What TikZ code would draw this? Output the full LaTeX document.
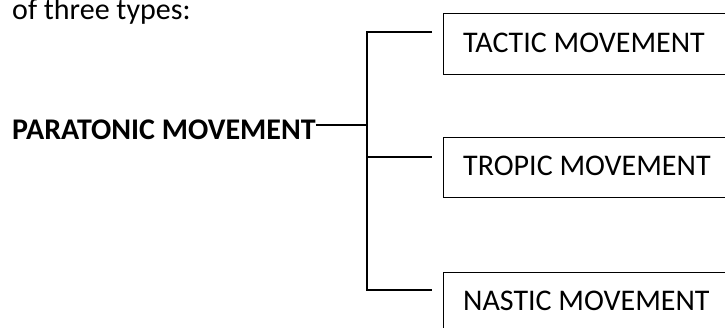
\documentclass[tikz,border=0pt]{standalone}
\usepackage{fontspec}
\setmainfont{Carlito}
\begin{document}
\begin{tikzpicture}[x=1pt,y=-1pt,
  txt/.style={font=\fontsize{30}{36}\selectfont, inner sep=0pt, anchor=base west},
  boxshape/.style={draw=black, line width=1.1pt, anchor=north west, minimum width=320pt, inner sep=0pt},
  conn/.style={draw=black, line width=1.1pt}]
\useasboundingbox (0,0) rectangle (725,327);
\clip (0,0) rectangle (725,327);
\node[txt] (intro) at (12,19) {of three types:};
\node[txt, font=\fontsize{30}{36}\selectfont\bfseries] (P) at (12,139) {PARATONIC MOVEMENT};
\node[boxshape, minimum height=61pt] (B1) at (443,12.5) {};
\node[boxshape, minimum height=60pt] (B2) at (443,136.5) {};
\node[boxshape, minimum height=80pt] (B3) at (443,271.5) {};
\node[txt] (T1) at (463,52) {TACTIC MOVEMENT};
\node[txt] (T2) at (463,175) {TROPIC MOVEMENT};
\node[txt] (T3) at (463,310) {NASTIC MOVEMENT};
\coordinate (jm) at (367,125);
\coordinate (j1) at (367,32);
\coordinate (j2) at (367,157);
\coordinate (j3) at (367,290);
\coordinate (e1) at (432,32);
\coordinate (e2) at (432,157);
\coordinate (e3) at (432,290);
\draw[conn] (P.east |- jm) -- (jm);
\draw[conn] (e1) -- (j1) -- (j3) -- (e3);
\draw[conn] (j2) -- (e2);
\end{tikzpicture}
\end{document}
